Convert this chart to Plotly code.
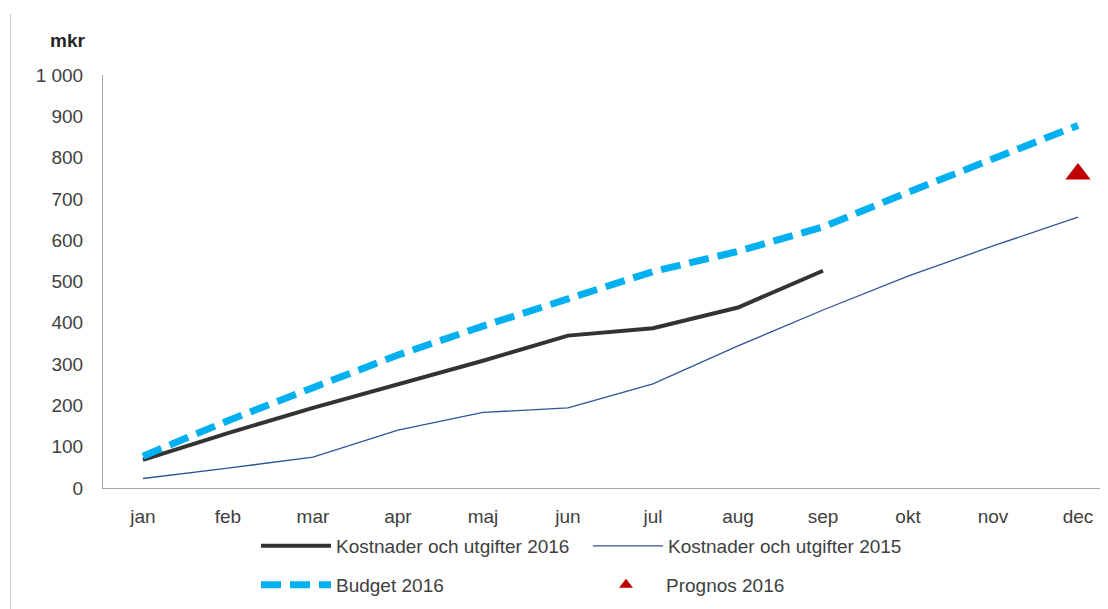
import plotly.graph_objects as go

months = ['jan', 'feb', 'mar', 'apr', 'maj', 'jun', 'jul', 'aug', 'sep', 'okt', 'nov', 'dec']
kost_2016 = [68, 133, 194, 250, 308, 369, 387, 437, 526]
kost_2015 = [23, 48, 75, 140, 183, 194, 252, 344, 431, 513, 586, 656]
budget_2016 = [77, 163, 243, 322, 392, 460, 524, 573, 632, 716, 799, 878]
prognos_month = ['dec']
prognos_2016 = [760]

y_ticks = [0, 100, 200, 300, 400, 500, 600, 700, 800, 900, 1000]
y_ticktext = ['0', '100', '200', '300', '400', '500', '600', '700', '800', '900', '1 000']

# page body adds an 8px offset; work in window pixels and convert
OFF = 8
W, H = 1108 - OFF, 609 - OFF
L, T, R = 103 - OFF, 75 - OFF, 0
BOTTOM_Y = 488 - OFF
B = H - BOTTOM_Y
PW, PH = W - L - R, H - T - B

def px(x):
    return (x - OFF - L) / PW

def py(y):
    return (BOTTOM_Y - (y - OFF)) / PH

FONT = 'Liberation Sans, Arial, sans-serif'
TXT = '#404040'

fig = go.Figure()
fig.add_trace(go.Scatter(
    x=months, y=kost_2015, mode='lines', name='Kostnader och utgifter 2015',
    line=dict(color='#2f5496', width=1.3), legend='legend2'))
fig.add_trace(go.Scatter(
    x=months[:len(kost_2016)], y=kost_2016, mode='lines', name='Kostnader och utgifter 2016',
    line=dict(color='#333333', width=4), legend='legend'))
fig.add_trace(go.Scatter(
    x=months, y=budget_2016, mode='lines', name='Budget 2016',
    line=dict(color='#00b0f0', width=7, dash='20px,9px'), legend='legend3'))
fig.add_trace(go.Scatter(
    x=prognos_month, y=prognos_2016, mode='markers', name='Prognos 2016',
    marker=dict(symbol='triangle-up', size=22, color='#c00000'), legend='legend4'))

leg_common = dict(orientation='h', xanchor='left', yanchor='middle',
                  font=dict(family=FONT, size=19, color=TXT),
                  itemwidth=70, bgcolor='rgba(0,0,0,0)', borderwidth=0)

fig.update_layout(
    width=W, height=H,
    margin=dict(l=L, r=R, t=T, b=B),
    paper_bgcolor='white', plot_bgcolor='white',
    showlegend=True,
    font=dict(family=FONT, size=19, color=TXT),
    xaxis=dict(type='category', categoryorder='array', categoryarray=months,
               range=[-0.47, 11.353], showgrid=False, zeroline=False,
               showline=True, linecolor='#a6a6a6', linewidth=1,
               ticks='', tickfont=dict(family=FONT, size=19, color=TXT),
               ticklabelstandoff=11),
    yaxis=dict(range=[0, 1000], tickvals=y_ticks, ticktext=y_ticktext,
               showgrid=False, zeroline=False, showline=True,
               linecolor='#a6a6a6', linewidth=1, ticks='',
               tickfont=dict(family=FONT, size=19, color=TXT),
               ticklabelstandoff=15),
    legend=dict(x=px(256), y=py(546), **leg_common),
    legend2=dict(x=px(588), y=py(546), **leg_common),
    legend3=dict(x=px(256), y=py(585), **leg_common),
    legend4=dict(x=px(586), y=py(585), itemsizing='constant', **leg_common),
    annotations=[dict(text='<b>mkr</b>', xref='paper', yref='paper',
                      x=px(67), y=py(40), xanchor='center', yanchor='middle',
                      showarrow=False, font=dict(family=FONT, size=19, color='#262626'))],
    shapes=[dict(type='line', xref='paper', yref='paper',
                 x0=px(10.5), x1=px(10.5), y0=py(14), y1=py(620),
                 line=dict(color='#d0d0d0', width=1))],
)

fig.write_html('out.html')
